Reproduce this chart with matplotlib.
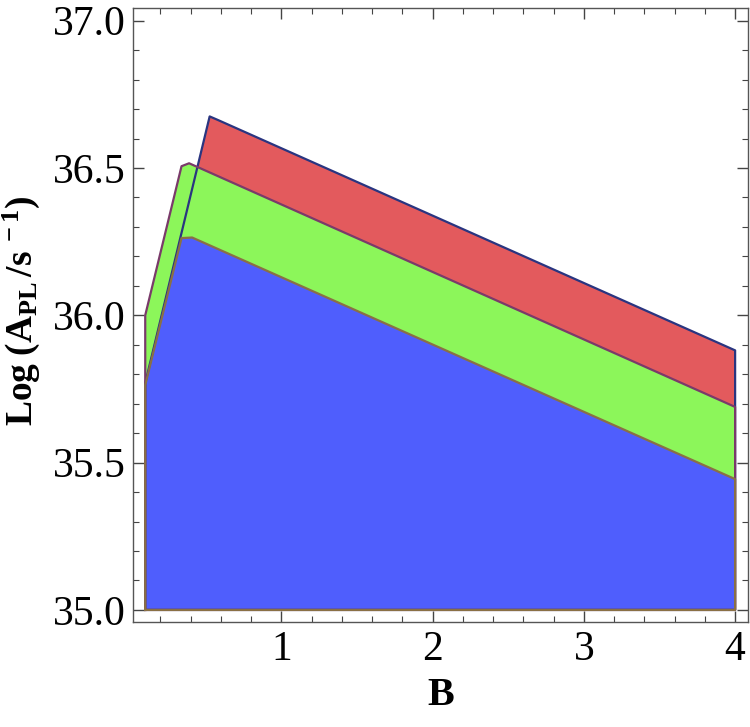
import matplotlib
matplotlib.use("Agg")
import matplotlib.pyplot as plt
from matplotlib.ticker import MultipleLocator, FormatStrFormatter

# region outlines (B, Log A_PL)
red_b = [0.1, 0.1, 0.526, 0.58, 4.0, 4.0]
red_log = [35.0, 35.77, 36.675, 36.663, 35.881, 35.0]

green_b = [0.1, 0.1, 0.34, 0.39, 4.0, 4.0]
green_log = [35.0, 36.0, 36.506, 36.516, 35.689, 35.0]

blue_b = [0.1, 0.1, 0.34, 0.41, 4.0, 4.0]
blue_log = [35.0, 35.763, 36.262, 36.264, 35.444, 35.0]

x_ticks = [1, 2, 3, 4]
y_ticks = [35.0, 35.5, 36.0, 36.5, 37.0]

plt.rcParams["font.family"] = "Liberation Serif"
plt.rcParams["mathtext.fontset"] = "custom"
plt.rcParams["mathtext.rm"] = "Liberation Serif:bold"
plt.rcParams["mathtext.it"] = "Liberation Serif:bold:italic"

fig = plt.figure(figsize=(7.5, 7.27), dpi=100)
ax = fig.add_axes([0.1773, 0.1444, 0.82, 0.8442])

regions = [
    (red_b, red_log, "#e35a5d", "#2a3580"),
    (green_b, green_log, "#8cf65a", "#7a3a6a"),
    (blue_b, blue_log, "#4f5efd", "#8a7045"),
]

# fills first, then outlines on top (as in the original)
for b, lg, fc, ec in regions:
    ax.fill(b, lg, color=fc, lw=0)
for b, lg, fc, ec in regions:
    ax.plot(b + [b[0]], lg + [lg[0]], color=ec, lw=1.6, solid_joinstyle="round")

ax.set_xlim(0.019, 4.085)
ax.set_ylim(34.959, 37.042)

ax.set_xticks(x_ticks)
ax.set_yticks(y_ticks)
ax.xaxis.set_minor_locator(MultipleLocator(0.2))
ax.yaxis.set_minor_locator(MultipleLocator(0.1))
ax.xaxis.set_major_formatter(FormatStrFormatter("%d"))
ax.yaxis.set_major_formatter(FormatStrFormatter("%.1f"))

ax.tick_params(which="both", direction="in", top=True, right=True, color="#444444")
ax.tick_params(which="major", length=8, width=1, labelsize=30)
ax.tick_params(which="minor", length=4.5, width=0.8)
ax.tick_params(axis="y", which="major", pad=5)
ax.tick_params(axis="x", which="major", pad=6)

for s in ax.spines.values():
    s.set_color("#555555")
    s.set_linewidth(1.0)

ax.set_xlabel("B", fontsize=29, fontweight="bold", labelpad=6)
ax.set_ylabel(r"Log$\;(\mathrm{A}_{\mathrm{PL}}\,/\mathrm{s}^{\;-1})$", fontsize=27,
              fontweight="bold")
ax.yaxis.set_label_coords(-0.148, 0.508)

fig.savefig("out.png", dpi=100)
